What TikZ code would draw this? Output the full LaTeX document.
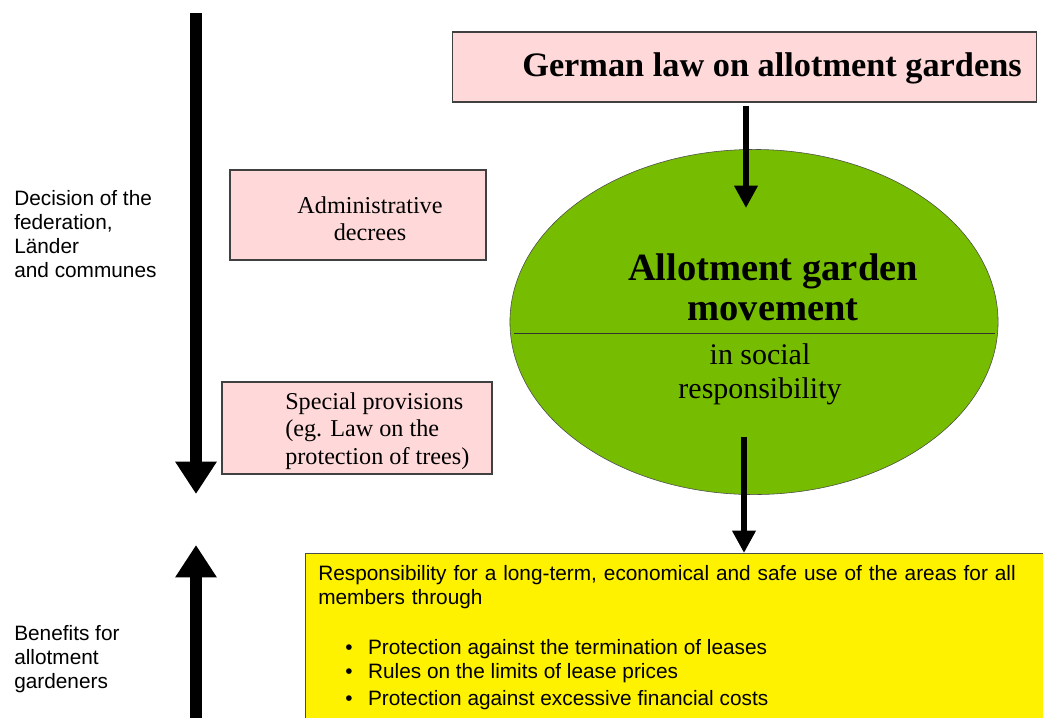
\documentclass[tikz,border=0pt]{standalone}
\usepackage{fontspec}
\setmainfont{Liberation Serif}
\setsansfont{Liberation Sans}
\usetikzlibrary{arrows.meta,shapes.geometric}
\definecolor{boxpink}{HTML}{FFD9D9}
\definecolor{gardengreen}{HTML}{76BC00}
\definecolor{benefityellow}{HTML}{FFF200}
\begin{document}
\begin{tikzpicture}[x=0.025cm,y=-0.025cm,
        pinkbox/.style={draw=black!75,fill=boxpink,line width=0.8pt,inner sep=0pt},
        bigarrow/.style={line width=8.5pt,-{Triangle[width=28pt,length=23pt]}},
        midarrow/.style={line width=4pt,-{Triangle[width=16pt,length=16pt]}},
        sidetext/.style={anchor=north west,align=left,inner sep=0pt,
            font=\sffamily\fontsize{14.8}{17.2}\selectfont},
        boxtext/.style={inner sep=0pt,font=\fontsize{17.2}{19.3}\selectfont}]
    \useasboundingbox (0,0) rectangle (1043,717);

    %Left side: two big arrows
    \coordinate (decTop) at (196,13);
    \coordinate (decEnd) at (196,494);
    \coordinate (benBot) at (196,720);
    \coordinate (benEnd) at (196,545);
    \draw[bigarrow] (decTop) -- (decEnd);
    \draw[bigarrow] (benBot) -- (benEnd);

    \node[sidetext] (decision) at (14,190) {Decision of the\\federation,\\Länder\\and communes};
    \node[sidetext] (benefit) at (14,625) {Benefits for\\allotment\\gardeners};

    %Pink boxes
    \node[pinkbox,minimum width=14.575cm,minimum height=1.75cm] (law) at (744.5,67) {};
    \node[inner sep=0pt,font=\bfseries\fontsize{24.4}{27}\selectfont] (lawtext) at (772,68) {German law on allotment gardens};

    \node[pinkbox,minimum width=6.4cm,minimum height=2.25cm] (admin) at (358,215) {};
    \node[boxtext,align=center] (admintext) at (370,219) {Administrative\\decrees};

    \node[pinkbox,minimum width=6.75cm,minimum height=2.3cm] (special) at (357,428) {};
    \node[boxtext,align=left,anchor=west,font=\fontsize{17.2}{19.5}\selectfont] (specialtext) at (285,431)
        {Special provisions\\(eg. Law on the\\protection of trees)};

    %Ellipse in the middle
    \node[ellipse,draw=black!70,fill=gardengreen,inner sep=0pt,
        minimum width=12.2cm,minimum height=8.625cm] (movement) at (754,322) {};
    \draw[black!80,line width=0.7pt] (514,333) -- (995,333);
    \node[inner sep=0pt,align=center,font=\bfseries\fontsize{27.4}{28.4}\selectfont] (movtext) at (773,287)
        {Allotment garden\\movement};
    \node[inner sep=0pt,align=center,font=\fontsize{21.3}{24}\selectfont] (socialtext) at (760,374)
        {in social\\responsibility};

    \coordinate (movTop) at (746,208);
    \coordinate (movLow) at (744,437);

    %Yellow box
    \node[draw=black!70,fill=benefityellow,line width=0.8pt,anchor=north west,inner sep=0pt,
        minimum width=18.75cm,minimum height=4.5cm] (benefits) at (305,553) {};
    \node[sidetext,text width=18cm] (respons) at (318,565)
        {Responsibility for a long-term, economical and safe use of the areas for all\\members through};
    \foreach \y/\txt in {639/Protection against the termination of leases,
                         663/Rules on the limits of lease prices,
                         690/Protection against excessive financial costs} {
        \node[sidetext] at (345,\y) {\textbullet\hspace{11pt}\txt};
    }

    %Connectors
    \draw[midarrow] (law.south -| movTop) ++(0,3) -- (movTop);
    \draw[midarrow] (movLow) -- (benefits.north -| movLow);
\end{tikzpicture}
\end{document}
